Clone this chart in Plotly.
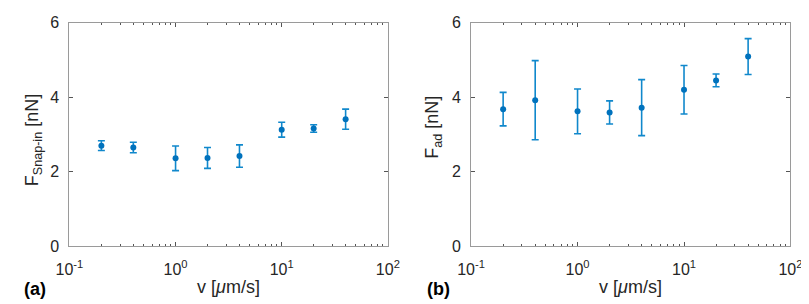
import plotly.graph_objects as go

velocity = [0.2, 0.4, 1, 2, 4, 10, 20, 40]
snap_in_mean = [2.70, 2.65, 2.36, 2.37, 2.42, 3.13, 3.16, 3.41]
snap_in_err = [0.13, 0.14, 0.33, 0.28, 0.30, 0.20, 0.10, 0.27]
adhesion_mean = [3.68, 3.92, 3.62, 3.59, 3.72, 4.20, 4.45, 5.09]
adhesion_err = [0.45, 1.06, 0.60, 0.31, 0.75, 0.65, 0.17, 0.48]

x_tickvals = [0.1, 1, 10, 100]
x_ticktext = ["10<sup>-1</sup>", "10<sup>0</sup>", "10<sup>1</sup>", "10<sup>2</sup>"]
y_tickvals = [0, 2, 4, 6]

COLOR = "#0072BD"
FONT = "Liberation Sans, Arial, sans-serif"
AXC = "#9a9a9a"
TXT = "#262626"
FS = 16
FT = 18

fig = go.Figure()
fig.add_trace(go.Scatter(x=velocity, y=snap_in_mean, mode="markers",
                         marker=dict(color=COLOR, size=6),
                         error_y=dict(type="data", array=snap_in_err, color="#1088cc", thickness=1.6, width=3.5),
                         xaxis="x", yaxis="y", showlegend=False))
fig.add_trace(go.Scatter(x=velocity, y=adhesion_mean, mode="markers",
                         marker=dict(color=COLOR, size=6),
                         error_y=dict(type="data", array=adhesion_err, color="#1088cc", thickness=1.6, width=3.5),
                         xaxis="x2", yaxis="y2", showlegend=False))

H = 304
W = 809
ydom = [(H - 244) / H, (H - 7) / H]
minor_vals = [a * b for b in [0.1, 1, 10] for a in range(2, 10)]

def xax(domain, anchor):
    return dict(type="log", range=[-1, 2], domain=domain, anchor=anchor,
                tickvals=x_tickvals, ticktext=x_ticktext,
                showline=True, linecolor=AXC, linewidth=1, mirror="ticks",
                ticks="inside", ticklen=4, tickcolor="#555",
                minor=dict(ticks="inside", ticklen=2, tickcolor="#555", tickvals=minor_vals),
                showgrid=False, zeroline=False, ticklabelstandoff=8,
                ticklabeloverflow="allow",
                tickfont=dict(family=FONT, size=FS, color=TXT))

def yax(domain, anchor):
    return dict(range=[0, 6], domain=domain, anchor=anchor, tickvals=y_tickvals,
                showline=True, linecolor=AXC, linewidth=1, mirror="ticks",
                ticks="inside", ticklen=4, tickcolor="#555",
                showgrid=False, zeroline=False, ticklabelstandoff=6,
                ticklabeloverflow="allow",
                tickfont=dict(family=FONT, size=FS, color=TXT))

def ann(text, x, y, size=FT, angle=0, color=TXT, xanchor="center"):
    return dict(text=text, x=x / W, y=1 - y / H, xref="paper", yref="paper",
                xanchor=xanchor, yanchor="middle", showarrow=False, textangle=angle,
                font=dict(family=FONT, size=size, color=color))

fig.update_layout(
    width=W, height=H, margin=dict(l=0, r=0, t=0, b=0),
    plot_bgcolor="white", paper_bgcolor="white",
    xaxis=xax([49 / W, 378 / W], "y"),
    yaxis=yax(ydom, "x"),
    xaxis2=xax([464 / W, 794 / W], "y2"),
    yaxis2=yax(ydom, "x2"),
    annotations=[
        ann("<b>(a)</b>", 0, 289, size=18, color="black", xanchor="left"),
        ann("<b>(b)</b>", 416, 289, size=18, color="black", xanchor="left"),
        ann("v [<i>μ</i>m/s]", (49 + 378) / 2, 287),
        ann("v [<i>μ</i>m/s]", (464 + 794) / 2, 287),
        ann("F<sub>Snap-in</sub> [nN]", 12, 132, angle=-90),
        ann("F<sub>ad</sub> [nN]", 425, 118, angle=-90),
    ],
)

fig.write_html("out.html")
